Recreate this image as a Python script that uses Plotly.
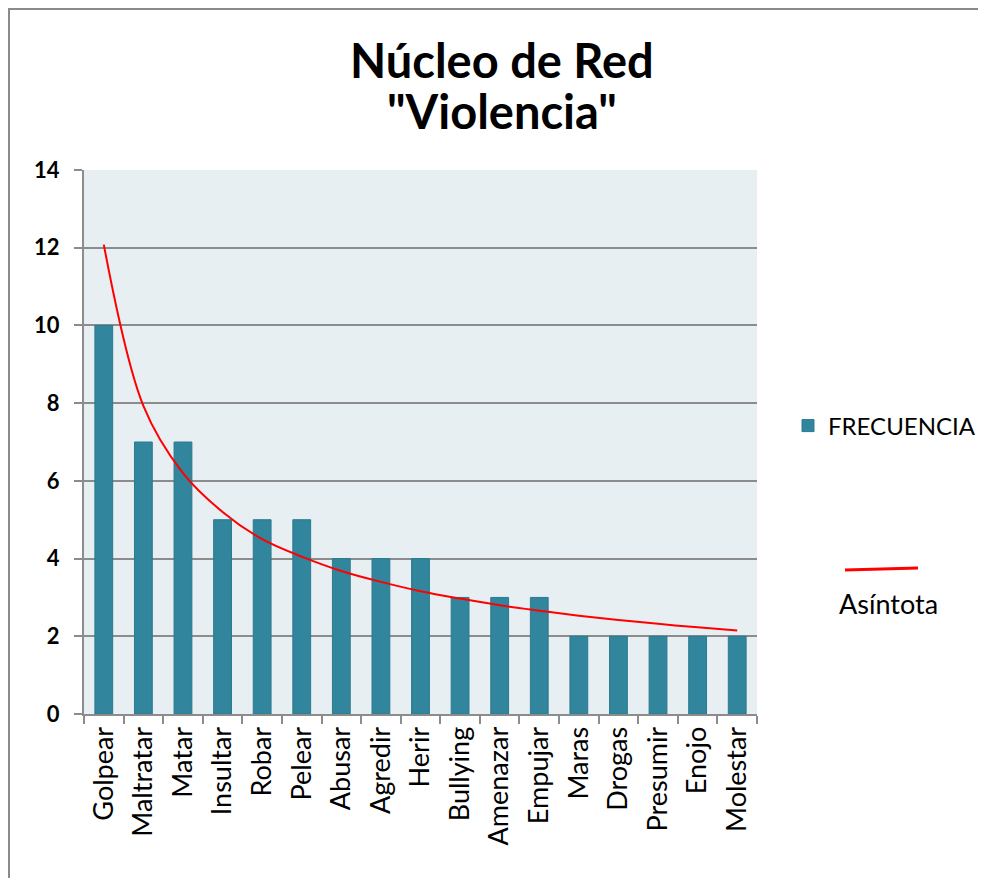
import plotly.graph_objects as go

categorias = ["Golpear", "Maltratar", "Matar", "Insultar", "Robar", "Pelear", "Abusar",
              "Agredir", "Herir", "Bullying", "Amenazar", "Empujar", "Maras", "Drogas",
              "Presumir", "Enojo", "Molestar"]
frecuencia = [10, 7, 7, 5, 5, 5, 4, 4, 4, 3, 3, 3, 2, 2, 2, 2, 2]
asintota = [12.08, 7.93, 6.2, 5.2, 4.5, 4.05, 3.68, 3.4, 3.16, 2.97, 2.8, 2.66, 2.53,
            2.42, 2.32, 2.23, 2.15]
y_ticks = [0, 2, 4, 6, 8, 10, 12, 14]

FONT = "Lato"
GRID = "#8c8c8c"

# page offset (body margin) is 8px; plot area in page pixels: x 84..757, y 170..714
OFF = 8
FW, FH = 986, 878
PX0, PX1, PY0, PY1 = 84, 757, 170, 714
W, H = PX1 - PX0, PY1 - PY0


def px(x):
    return (x - PX0) / W


def py(y):
    return (PY1 - y) / H


fig = go.Figure()
fig.add_trace(go.Bar(
    x=categorias, y=frecuencia, name="FRECUENCIA",
    marker=dict(color="#31859C", line=dict(color="#2b7a8f", width=1)),
))
fig.add_trace(go.Scatter(
    x=categorias, y=asintota, name="Asíntota", mode="lines",
    line=dict(color="#FF0000", width=2, shape="spline", smoothing=1.0),
    showlegend=False,
))

fig.update_layout(
    width=FW, height=FH,
    margin=dict(l=PX0 - OFF, r=FW - (PX1 - OFF), t=PY0 - OFF, b=FH - (PY1 - OFF), pad=0,
                autoexpand=False),
    paper_bgcolor="white",
    plot_bgcolor="#E8EFF3",
    bargap=0.55,
    font=dict(family=FONT, color="black"),
    showlegend=True,
    legend=dict(
        xref="container", yref="container",
        x=(788 - OFF) / FW, y=1 - (426 - OFF) / FH, xanchor="left", yanchor="middle",
        font=dict(family=FONT, size=24, color="black"),
        bgcolor="rgba(0,0,0,0)", itemwidth=30,
    ),
    xaxis=dict(
        type="category", tickson="boundaries", ticks="outside", ticklen=8,
        tickcolor=GRID, tickwidth=2, showline=True, linecolor=GRID, linewidth=2,
        showgrid=False, tickangle=-90,
        tickfont=dict(family=FONT, size=27, color="black"),
    ),
    yaxis=dict(
        range=[0, 14], tickvals=y_ticks, ticks="outside", ticklen=8,
        tickcolor=GRID, tickwidth=2, showline=True, linecolor=GRID, linewidth=2,
        showgrid=True, gridcolor=GRID, gridwidth=2, zeroline=False,
        tickfont=dict(family=FONT, size=22, color="black", weight="bold"),
        ticklabelstandoff=10,
    ),
    annotations=[
        dict(text="<b>Núcleo de Red</b>", xref="paper", yref="paper",
             x=px(502), y=py(60), xanchor="center", yanchor="middle", showarrow=False,
             font=dict(family=FONT, size=47, color="black")),
        dict(text="<b>\"Violencia\"</b>", xref="paper", yref="paper",
             x=px(502), y=py(111), xanchor="center", yanchor="middle", showarrow=False,
             font=dict(family=FONT, size=47, color="black")),
        dict(text="Asíntota", xref="paper", yref="paper",
             x=px(888), y=py(603), xanchor="center", yanchor="middle",
             showarrow=False, font=dict(family=FONT, size=27, color="black")),
    ],
    shapes=[
        dict(type="line", xref="paper", yref="paper",
             x0=px(845), x1=px(918), y0=py(570), y1=py(568),
             line=dict(color="#FF0000", width=3)),
        dict(type="rect", xref="paper", yref="paper",
             x0=px(9), x1=px(1100), y0=py(1000), y1=py(9),
             line=dict(color="#8a8a8a", width=2), fillcolor="rgba(0,0,0,0)", layer="below"),
    ],
)

fig.write_html("out.html")
